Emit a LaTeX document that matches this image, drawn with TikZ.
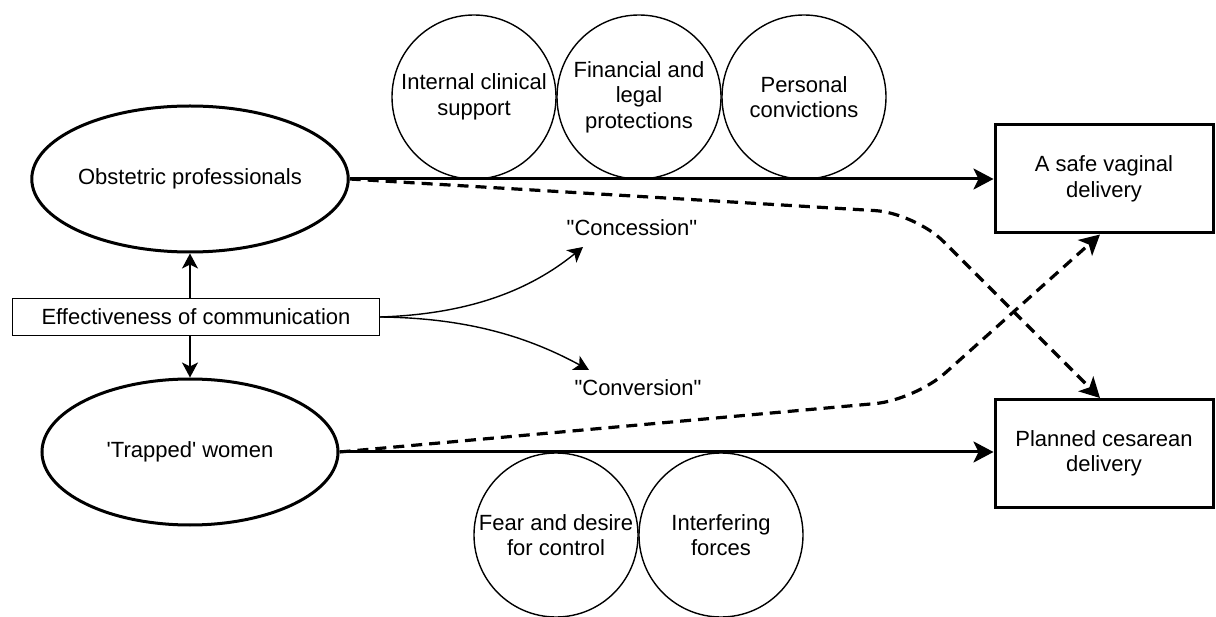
\documentclass[tikz,border=0pt]{standalone}
\usepackage{fontspec}
\setmainfont{Liberation Sans}[Ligatures=TeXOff]
\usetikzlibrary{shapes.geometric,arrows.meta}
\tikzset{
  txt/.style={font=\fontsize{22}{25.5}\selectfont, align=center},
  actor/.style={txt, ellipse, draw, line width=3pt, minimum width=296pt, minimum height=146pt, inner sep=0pt},
  outcome/.style={txt, rectangle, draw, line width=3pt, minimum width=218pt, minimum height=108pt},
  factor/.style={txt, circle, draw, line width=1.4pt, minimum size=164pt, inner sep=0pt},
  thinbox/.style={txt, rectangle, draw, line width=1.4pt, minimum width=367pt, minimum height=37pt, inner sep=0pt},
  label/.style={txt, inner sep=0pt},
  mainarrow/.style={line width=3pt, -{Stealth[length=20pt, width=21pt, inset=5pt]}},
  dasharrow/.style={line width=3.2pt, dash pattern=on 11pt off 7pt, -{Stealth[length=20pt, width=21pt, inset=5pt]}},
  thinarrow/.style={line width=1.4pt, -{Stealth[length=15pt, width=16pt, inset=4pt]}}
}
\begin{document}
\begin{tikzpicture}[x=1pt, y=-1pt]
\useasboundingbox (0,0) rectangle (1216,617);
% factor circles (drawn first, beneath lines)
\node[factor] (ics) at (474,97) {Internal clinical\\support};
\node[factor] (flp) at (639,97) {Financial and\\legal\\protections};
\node[factor] (pc) at (804,97) {Personal\\convictions};
\node[factor] (fdc) at (556,535) {Fear and desire\\for control};
\node[factor] (if) at (721,535) {Interfering\\forces};
% actors
\node[actor] (obs) at (190,179) {Obstetric professionals};
\node[actor] (tw) at (190,452) {'Trapped' women};
\node[thinbox] (eff) at (196,317) {Effectiveness of communication};
% outcomes
\node[outcome] (svd) at (1104,179) {A safe vaginal\\delivery};
\node[outcome] (pcd) at (1104,453.5) {Planned cesarean\\delivery};
% labels
\node[label] (conc) at (632,228) {"Concession"};
\node[label] (conv) at (638,388) {"Conversion"};
\coordinate (ct) at (583,247);
\coordinate (vt) at (589,370);
\coordinate (w1) at (915,213);
\coordinate (w2) at (915,400);
% connectors
\draw[mainarrow] (obs.east) -- (svd.west);
\draw[mainarrow] (tw.east) -- (svd.west |- tw.east);
\draw[dasharrow, rounded corners=40pt] (obs.east) -- (w1) -- ([xshift=-4pt]pcd.north);
\draw[dasharrow, rounded corners=40pt] (tw.east) -- (w2) -- ([xshift=-4pt]svd.south);
\draw[thinarrow] (obs.south |- eff.north) -- (obs.south);
\draw[thinarrow] (tw.north |- eff.south) -- (tw.north);
\draw[thinarrow] (eff.east) .. controls (470,314) and (530,290) .. (ct);
\draw[thinarrow] (eff.east) .. controls (470,318) and (530,338) .. (vt);
\end{tikzpicture}
\end{document}
